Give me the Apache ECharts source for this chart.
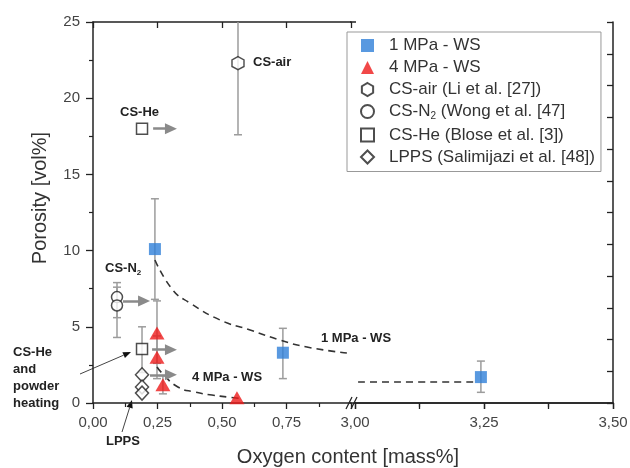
<!DOCTYPE html>
<html>
<head>
<meta charset="utf-8">
<script src="https://cdn.jsdelivr.net/npm/echarts@6/dist/echarts.min.js"></script>
<style>
html, body { margin: 0; padding: 0; background: #fff; }
#main { width: 630px; height: 468px; }
</style>
</head>
<body>
<div id="main"></div>
<script>
// 1 MPa - WS (left part of the broken axis and right part)
var mpa1X = [0.24, 0.736];
var mpa1Y = [10.1, 3.3];
var mpa1Lo = [6.8, 1.6];
var mpa1Hi = [13.4, 4.9];
var mpa1RightX = [3.244];
var mpa1RightY = [1.7];
var mpa1RightLo = [0.7];
var mpa1RightHi = [2.75];
// 4 MPa - WS
var mpa4X = [0.248, 0.248, 0.271, 0.558];
var mpa4Y = [4.6, 3.0, 1.2, 0.35];
var mpa4Lo = [2.6, 1.6, 0.6, null];
var mpa4Hi = [6.7, 4.4, 1.8, null];
// literature
var airX = [0.562], airY = [22.3], airLo = [17.6], airHi = [26];
var n2X = [0.093, 0.093], n2Y = [6.95, 6.4], n2Lo = [5.6, 4.3], n2Hi = [7.9, 7.6];
var heX = [0.19, 0.19], heY = [18.0, 3.55], heLo = [null, 2.0], heHi = [null, 5.0];
var lppsX = [0.19, 0.19, 0.19], lppsY = [1.85, 1.05, 0.65];
// dashed fit curves
var fit1X = [0.24, 0.31, 0.376, 0.492, 0.609, 0.725, 0.829, 0.984];
var fit1Y = [9.38, 7.4, 6.56, 5.45, 4.79, 4.13, 3.67, 3.28];
var fit1RightX = [3.006, 3.229];
var fit1RightY = [1.38, 1.38];
var fit4X = [0.248, 0.267, 0.329, 0.395, 0.461, 0.523, 0.57];
var fit4Y = [2.36, 1.97, 1.05, 0.72, 0.52, 0.39, 0.3];
// gray arrows
var arrowY = [18.0, 6.7, 3.5, 1.85];
var arrowX0 = [0.233, 0.116, 0.229, 0.221];
var arrowX1 = [0.302, 0.198, 0.302, 0.302];

var names = ['1 MPa - WS', '4 MPa - WS', 'CS-air (Li et al. [27])', 'CS-N2 (Wong et al. [47]',
	'CS-He (Blose et al. [3])', 'LPPS (Salimijazi et al. [48])'];

var FONT = "'Liberation Sans', Arial, sans-serif";
var hexPath = 'path://M0,-1L0.866,-0.5L0.866,0.5L0,1L-0.866,0.5L-0.866,-0.5Z';

function zip(xs, ys) {
	var out = [];
	for (var i = 0; i < xs.length; i++) out.push([xs[i], ys[i]]);
	return out;
}
function errData(xs, lo, hi) {
	var out = [];
	for (var i = 0; i < xs.length; i++) {
		if (lo[i] == null) continue;
		out.push([xs[i], lo[i], hi[i]]);
	}
	return out;
}
function fmt(v) {
	return v.toFixed(2).replace('.', ',');
}

function renderErr(params, api) {
	var x = api.value(0);
	var top = api.coord([x, api.value(2)]);
	var bot = api.coord([x, api.value(1)]);
	var st = { stroke: '#9c9c9c', lineWidth: 1.5 };
	return {
		type: 'group',
		children: [
			{ type: 'line', shape: { x1: top[0], y1: top[1], x2: bot[0], y2: bot[1] }, style: st },
			{ type: 'line', shape: { x1: top[0] - 4, y1: top[1], x2: top[0] + 4, y2: top[1] }, style: st },
			{ type: 'line', shape: { x1: bot[0] - 4, y1: bot[1], x2: bot[0] + 4, y2: bot[1] }, style: st }
		]
	};
}
function errSeries(data, side) {
	return {
		type: 'custom',
		xAxisIndex: side == 0 ? 0 : 2,
		yAxisIndex: side == 0 ? 0 : 1,
		renderItem: renderErr,
		encode: { x: 0, y: [1, 2] },
		clip: true,
		silent: true,
		z: 1,
		data: data
	};
}
function dashSeries(xs, ys, side) {
	return {
		type: 'line',
		xAxisIndex: side == 0 ? 0 : 2,
		yAxisIndex: side == 0 ? 0 : 1,
		data: zip(xs, ys),
		smooth: true,
		showSymbol: false,
		symbol: 'none',
		silent: true,
		z: 2,
		lineStyle: { color: '#333', width: 1.6, type: [7, 5] }
	};
}
var openStyle = { color: '#fff', borderColor: '#222', borderWidth: 1.5 };

// black pointer arrows (annotation, pixel space)
function pointer(x1, y1, x2, y2) {
	var dx = x2 - x1, dy = y2 - y1, len = Math.sqrt(dx * dx + dy * dy);
	var ux = dx / len, uy = dy / len, hl = 8, hw = 3.2;
	var bx = x2 - ux * hl, by = y2 - uy * hl;
	return [
		{ type: 'line', shape: { x1: x1, y1: y1, x2: bx, y2: by }, style: { stroke: '#444', lineWidth: 1 } },
		{ type: 'polygon', shape: { points: [[x2, y2], [bx - uy * hw, by + ux * hw], [bx + uy * hw, by - ux * hw]] }, style: { fill: '#111' } }
	];
}
function note(text, x, y) {
	return {
		type: 'text', x: x, y: y, z: 10,
		style: {
			text: text, font: 'bold 13px ' + FONT, fill: '#222',
			verticalAlign: 'middle', lineHeight: 17,
			rich: { sub: { font: 'bold 8px ' + FONT, padding: [9, 0, 0, 0] } }
		}
	};
}

var graphics = [
	// bridge axis lines across the break and the break marks
	{ type: 'line', shape: { x1: 350, y1: 22, x2: 356, y2: 22 }, style: { stroke: '#222', lineWidth: 1.5 } },
	{ type: 'line', shape: { x1: 350, y1: 403, x2: 356, y2: 403 }, style: { stroke: '#222', lineWidth: 1.5 } },
	{ type: 'line', shape: { x1: 346, y1: 409, x2: 352, y2: 397 }, style: { stroke: '#222', lineWidth: 1.3 } },
	{ type: 'line', shape: { x1: 351, y1: 409, x2: 357, y2: 397 }, style: { stroke: '#222', lineWidth: 1.3 } },
	// axis titles
	{ type: 'text', x: 348, y: 457, style: { text: 'Oxygen content [mass%]', font: '20px ' + FONT, fill: '#333', align: 'center', verticalAlign: 'middle' } },
	{ type: 'text', x: 40, y: 198, rotation: Math.PI / 2, style: { text: 'Porosity [vol%]', font: '20px ' + FONT, fill: '#333', align: 'center', verticalAlign: 'middle' } },
	note('CS-air', 253, 62),
	note('CS-He', 120, 112),
	note('CS-N{sub|2}', 105, 268),
	note('CS-He\nand\npowder\nheating', 13, 378),
	note('LPPS', 106, 441),
	note('4 MPa - WS', 192, 377),
	note('1 MPa - WS', 321, 338)
].concat(pointer(80, 374, 131, 352)).concat(pointer(122, 432, 132, 400));

var arrowLines = [];
for (var i = 0; i < arrowY.length; i++) {
	arrowLines.push([{ coord: [arrowX0[i], arrowY[i]] }, { coord: [arrowX1[i], arrowY[i]] }]);
}

var axisLineStyle = { lineStyle: { color: '#222', width: 1.5 } };
var labelStyle = { fontSize: 15, color: '#444', fontFamily: FONT };

var option = {
	animation: false,
	textStyle: { fontFamily: FONT },
	grid: [
		{ left: 93, top: 22, width: 258, height: 381, containLabel: false, outerBoundsMode: 'none' },
		{ left: 355, top: 22, width: 258, height: 381, containLabel: false, outerBoundsMode: 'none' }
	],
	xAxis: [
		{ gridIndex: 0, type: 'value', min: 0, max: 1, interval: 0.25, position: 'bottom',
			axisLine: axisLineStyle, splitLine: { show: false },
			axisTick: { length: 6, lineStyle: { color: '#222', width: 1.3 } },
			minorTick: { show: true, splitNumber: 2, length: 4, lineStyle: { color: '#222', width: 1.2 } },
			axisLabel: Object.assign({ margin: 12, formatter: function (v) { return v >= 1 ? '' : fmt(v); } }, labelStyle) },
		{ gridIndex: 0, type: 'value', min: 0, max: 1, interval: 0.25, position: 'top',
			axisLine: axisLineStyle, splitLine: { show: false }, axisLabel: { show: false },
			axisTick: { inside: true, length: 6, lineStyle: { color: '#222', width: 1.3 } } },
		{ gridIndex: 1, type: 'value', min: 3, max: 3.5, interval: 0.25, position: 'bottom',
			axisLine: axisLineStyle, splitLine: { show: false },
			axisTick: { length: 6, lineStyle: { color: '#222', width: 1.3 } },
			minorTick: { show: true, splitNumber: 2, length: 4, lineStyle: { color: '#222', width: 1.2 } },
			axisLabel: Object.assign({ margin: 12, formatter: fmt }, labelStyle) },
		{ gridIndex: 1, type: 'value', min: 3, max: 3.5, interval: 0.125, position: 'top',
			axisLine: axisLineStyle, splitLine: { show: false }, axisLabel: { show: false },
			axisTick: { inside: true, length: 6, lineStyle: { color: '#222', width: 1.3 } } }
	],
	yAxis: [
		{ gridIndex: 0, type: 'value', min: 0, max: 25, interval: 5, position: 'left',
			axisLine: axisLineStyle, splitLine: { show: false },
			axisTick: { length: 7, lineStyle: { color: '#222', width: 1.3 } },
			minorTick: { show: true, splitNumber: 2, length: 4, lineStyle: { color: '#222', width: 1.2 } },
			axisLabel: Object.assign({ margin: 13 }, labelStyle) },
		{ gridIndex: 1, type: 'value', min: 0, max: 25, show: false },
		{ gridIndex: 1, type: 'value', min: 0, max: 12, interval: 1, position: 'right',
			axisLine: axisLineStyle, splitLine: { show: false }, axisLabel: { show: false },
			axisTick: { inside: true, length: 6, lineStyle: { color: '#222', width: 1.3 } } }
	],
	legend: {
		data: names,
		orient: 'vertical',
		left: 347, top: 32,
		padding: [5, 6, 6, 13],
		itemGap: 5,
		itemWidth: 13, itemHeight: 13,
		borderColor: '#999', borderWidth: 1,
		selectedMode: false,
		formatter: function (name) { return name.replace('CS-N2', 'CS-N{sub|2}'); },
		textStyle: {
			fontSize: 17, color: '#333', fontFamily: FONT, padding: [0, 0, 0, 10],
			rich: { sub: { fontSize: 10, fontFamily: FONT, color: '#333', padding: [10, 0, 0, 0] } }
		}
	},
	graphic: graphics,
	series: [
		errSeries(errData(mpa1X, mpa1Lo, mpa1Hi), 0),
		errSeries(errData(mpa1RightX, mpa1RightLo, mpa1RightHi), 1),
		errSeries(errData(mpa4X, mpa4Lo, mpa4Hi), 0),
		errSeries(errData(airX, airLo, airHi), 0),
		errSeries(errData(n2X, n2Lo, n2Hi), 0),
		errSeries(errData(heX, heLo, heHi), 0),
		dashSeries(fit1X, fit1Y, 0),
		dashSeries(fit1RightX, fit1RightY, 1),
		dashSeries(fit4X, fit4Y, 0),
		{ // gray arrows
			type: 'line', xAxisIndex: 0, yAxisIndex: 0, data: [], silent: true, z: 3,
			markLine: {
				silent: true, animation: false,
				symbol: ['none', 'triangle'], symbolSize: [11, 12],
				label: { show: false },
				lineStyle: { color: '#8a8a8a', width: 2.5, type: 'solid' },
				emphasis: { disabled: true },
				data: arrowLines
			}
		},
		{ name: names[0], type: 'scatter', xAxisIndex: 0, yAxisIndex: 0, z: 5,
			symbol: 'rect', symbolSize: 12, itemStyle: { color: '#2f7fd8' }, data: zip(mpa1X, mpa1Y) },
		{ name: names[0], type: 'scatter', xAxisIndex: 2, yAxisIndex: 1, z: 5,
			symbol: 'rect', symbolSize: 12, itemStyle: { color: '#2f7fd8' }, data: zip(mpa1RightX, mpa1RightY) },
		{ name: names[1], type: 'scatter', xAxisIndex: 0, yAxisIndex: 0, z: 5,
			symbol: 'triangle', symbolSize: [15, 13], itemStyle: { color: '#ee1a1a' }, data: zip(mpa4X, mpa4Y) },
		{ name: names[2], type: 'scatter', xAxisIndex: 0, yAxisIndex: 0, z: 5,
			symbol: hexPath, symbolSize: [12, 13], itemStyle: openStyle, data: zip(airX, airY) },
		{ name: names[3], type: 'scatter', xAxisIndex: 0, yAxisIndex: 0, z: 5,
			symbol: 'circle', symbolSize: 11, itemStyle: openStyle, data: zip(n2X, n2Y) },
		{ name: names[4], type: 'scatter', xAxisIndex: 0, yAxisIndex: 0, z: 5,
			symbol: 'rect', symbolSize: 11, itemStyle: openStyle, data: zip(heX, heY) },
		{ name: names[5], type: 'scatter', xAxisIndex: 0, yAxisIndex: 0, z: 5,
			symbol: 'diamond', symbolSize: [13, 14], itemStyle: openStyle, data: zip(lppsX, lppsY) }
	]
};

var chart = echarts.init(document.getElementById('main'));
chart.setOption(option);
</script>
</body>
</html>
